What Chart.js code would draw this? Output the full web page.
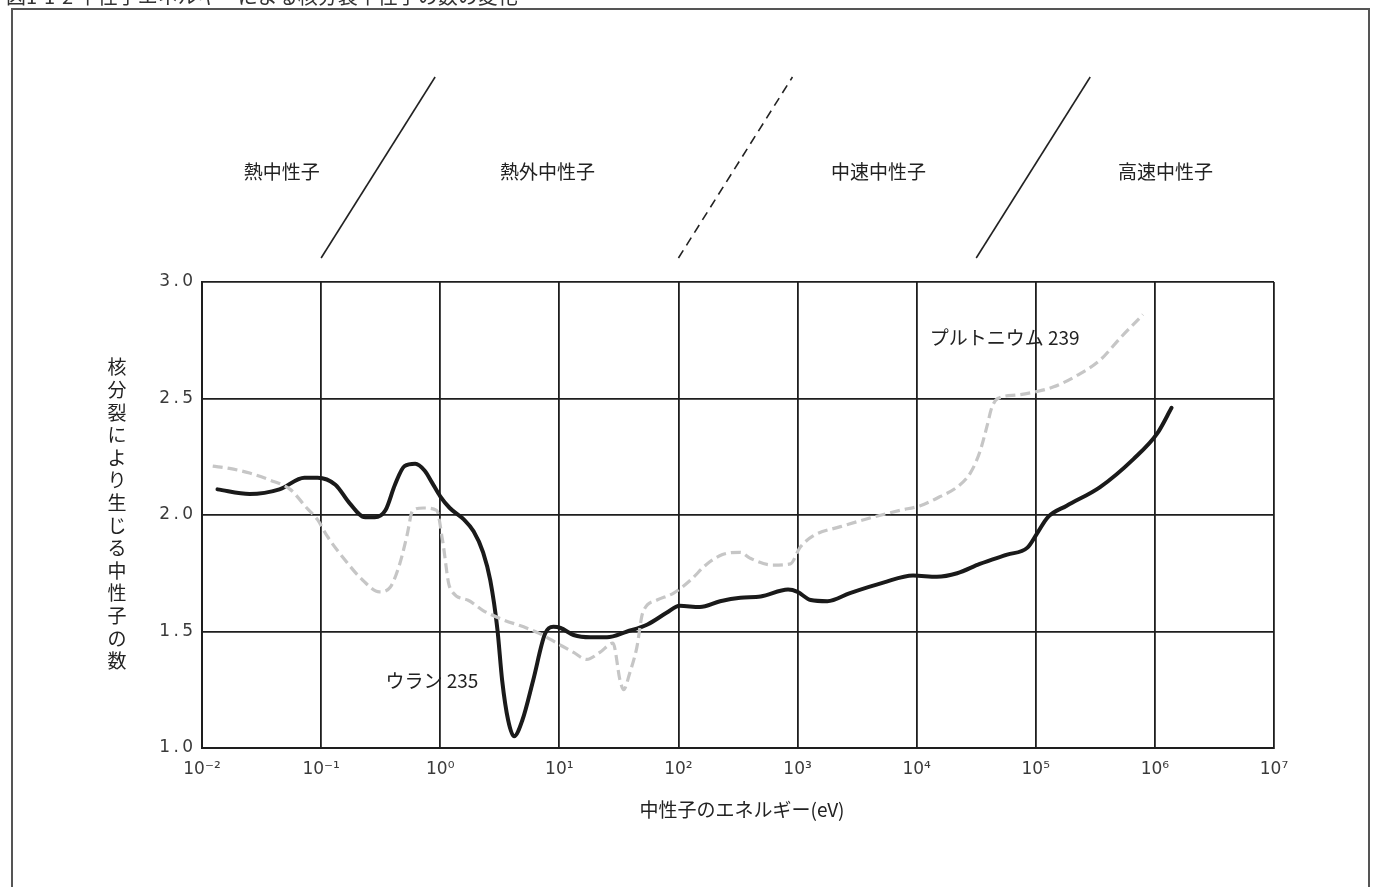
<!DOCTYPE html>
<html lang="ja">
<head>
<meta charset="utf-8">
<title>中性子エネルギーによる核分裂中性子の数の変化</title>
<script src="https://cdn.jsdelivr.net/npm/chart.js@4/dist/chart.umd.min.js"></script>
<style>
  html, body { margin: 0; padding: 0; background: #ffffff; }
  #wrap { width: 1375px; height: 887px; position: relative; }
</style>
</head>
<body>
<div id="wrap"><canvas id="c" width="1375" height="887"></canvas></div>
<script>
// Neutron energy given as log10(E / eV); y = neutrons released per fission.
const uraniumLogE = [-1.87, -1.60, -1.35, -1.14, -1.03, -0.88, -0.76, -0.63, -0.55, -0.46, -0.38, -0.30, -0.21, -0.13, -0.07, 0.00, 0.08, 0.20, 0.28, 0.36, 0.42, 0.48, 0.52, 0.57, 0.62, 0.69, 0.78, 0.88, 0.95, 1.01, 1.12, 1.26, 1.40, 1.57, 1.74, 1.90, 2.01, 2.18, 2.35, 2.52, 2.69, 2.92, 3.00, 3.11, 3.25, 3.44, 3.72, 3.97, 4.17, 4.34, 4.53, 4.76, 4.93, 5.01, 5.10, 5.26, 5.54, 5.82, 6.02, 6.14];
const uraniumNu   = [2.11, 2.09, 2.11, 2.16, 2.16, 2.13, 2.05, 1.99, 1.99, 2.02, 2.13, 2.21, 2.22, 2.19, 2.14, 2.08, 2.03, 1.98, 1.93, 1.84, 1.72, 1.51, 1.29, 1.12, 1.05, 1.12, 1.29, 1.49, 1.52, 1.515, 1.485, 1.475, 1.475, 1.50, 1.53, 1.58, 1.61, 1.605, 1.63, 1.645, 1.65, 1.68, 1.67, 1.635, 1.63, 1.665, 1.71, 1.74, 1.735, 1.75, 1.79, 1.83, 1.86, 1.92, 1.99, 2.04, 2.12, 2.24, 2.35, 2.46];

const plutoniumLogE = [-1.91, -1.77, -1.60, -1.43, -1.26, -1.12, -1.03, -0.95, -0.82, -0.65, -0.51, -0.42, -0.34, -0.28, -0.23, -0.14, -0.03, 0.02, 0.08, 0.23, 0.36, 0.53, 0.70, 0.84, 0.98, 1.12, 1.23, 1.34, 1.45, 1.51, 1.54, 1.59, 1.65, 1.70, 1.82, 1.96, 2.10, 2.24, 2.37, 2.52, 2.60, 2.79, 2.94, 3.02, 3.13, 3.36, 3.63, 3.86, 4.03, 4.20, 4.34, 4.45, 4.53, 4.59, 4.63, 4.68, 4.84, 5.01, 5.15, 5.35, 5.54, 5.71, 5.90];
const plutoniumNu   = [2.21, 2.20, 2.18, 2.15, 2.11, 2.03, 1.98, 1.91, 1.82, 1.72, 1.67, 1.69, 1.79, 1.91, 2.02, 2.03, 2.02, 1.89, 1.69, 1.635, 1.59, 1.55, 1.52, 1.49, 1.45, 1.41, 1.38, 1.41, 1.45, 1.29, 1.25, 1.32, 1.43, 1.58, 1.635, 1.665, 1.72, 1.79, 1.83, 1.84, 1.815, 1.785, 1.79, 1.86, 1.91, 1.95, 1.99, 2.02, 2.04, 2.08, 2.12, 2.18, 2.27, 2.38, 2.46, 2.50, 2.515, 2.53, 2.55, 2.60, 2.665, 2.76, 2.86];

// Axis ticks
const xTickExponents = [-2, -1, 0, 1, 2, 3, 4, 5, 6, 7];
const xTickLabels = ['10⁻²', '10⁻¹', '10⁰', '10¹', '10²', '10³', '10⁴', '10⁵', '10⁶', '10⁷'];
const yTicks = [1.0, 1.5, 2.0, 2.5, 3.0];

// Energy regions along the top, and the boundaries drawn between them
const regionNames = ['熱中性子', '熱外中性子', '中速中性子', '高速中性子'];
const regionCenters = [-1.33, 0.9, 3.68, 6.09];
const boundaryExponents = [-1, 2, 4.5];
const boundaryDashed = [false, true, false];

// Series name labels placed in the plot (log10 E, value)
const seriesLabels = [
  { text: 'ウラン 235', x: -0.46, y: 1.29 },
  { text: 'プルトニウム 239', x: 4.11, y: 2.76 }
];

const figureTitle = '図1-1-2 中性子エネルギーによる核分裂中性子の数の変化';
const yTitle = '核分裂により生じる中性子の数';
const xTitle = '中性子のエネルギー(eV)';

const JP = '"Noto Sans CJK JP", "Noto Sans", sans-serif';

const toPoints = (xs, ys) => xs.map((x, i) => ({ x: x, y: ys[i] }));

const decorations = {
  id: 'decorations',
  beforeDraw(chart) {
    const ctx = chart.ctx;
    ctx.save();
    ctx.fillStyle = '#ffffff';
    ctx.fillRect(0, 0, chart.width, chart.height);
    // page frame
    ctx.strokeStyle = '#555555';
    ctx.lineWidth = 2;
    ctx.strokeRect(12, 9, 1357, 900);
    // figure caption, cut at the top edge of the page
    ctx.fillStyle = '#333333';
    ctx.font = '20px ' + JP;
    ctx.textBaseline = 'alphabetic';
    ctx.textAlign = 'left';
    ctx.fillText(figureTitle, 6, 4);
    ctx.restore();
  },
  beforeDatasetDraw(chart, args) {
    if (args.index === 0) {
      chart.ctx.save();
      chart.ctx.filter = 'blur(0.7px)';
    }
  },
  afterDatasetDraw(chart, args) {
    if (args.index === 0) chart.ctx.restore();
  },
  afterDraw(chart) {
    const ctx = chart.ctx;
    const xs = chart.scales.x, ys = chart.scales.y;
    const area = chart.chartArea;
    ctx.save();
    ctx.fillStyle = '#222222';
    ctx.textBaseline = 'middle';

    // region names
    ctx.font = '19px ' + JP;
    ctx.textAlign = 'center';
    regionNames.forEach((name, i) => {
      ctx.fillText(name, xs.getPixelForValue(regionCenters[i]), 172);
    });

    // boundary strokes
    ctx.strokeStyle = '#222222';
    ctx.lineWidth = 1.6;
    boundaryExponents.forEach((e, i) => {
      const bx = xs.getPixelForValue(e);
      ctx.setLineDash(boundaryDashed[i] ? [9, 6] : []);
      ctx.beginPath();
      ctx.moveTo(bx, area.top - 24);
      ctx.lineTo(bx + 114, area.top - 205);
      ctx.stroke();
    });
    ctx.setLineDash([]);

    // series names
    ctx.font = '19px ' + JP;
    ctx.textAlign = 'left';
    seriesLabels.forEach(l => {
      ctx.fillText(l.text, xs.getPixelForValue(l.x), ys.getPixelForValue(l.y));
    });

    // vertical y-axis title, one character per row
    ctx.font = '19px ' + JP;
    ctx.textAlign = 'center';
    const chars = Array.from(yTitle);
    const step = 22.6;
    const yMid = (area.top + area.bottom) / 2 - 1;
    const y0 = yMid - step * (chars.length - 1) / 2;
    chars.forEach((ch, i) => ctx.fillText(ch, 117, y0 + i * step));

    // x-axis title
    ctx.font = '19px ' + JP;
    ctx.fillText(xTitle, (area.left + area.right) / 2 + 4, area.bottom + 62);
    ctx.restore();
  }
};

new Chart(document.getElementById('c'), {
  type: 'line',
  data: {
    datasets: [
      {
        label: 'プルトニウム 239',
        data: toPoints(plutoniumLogE, plutoniumNu),
        borderColor: '#c6c6c6',
        borderWidth: 3.2,
        borderDash: [10, 5],
        pointRadius: 0,
        cubicInterpolationMode: 'monotone',
        fill: false
      },
      {
        label: 'ウラン 235',
        data: toPoints(uraniumLogE, uraniumNu),
        borderColor: '#1a1a1a',
        borderWidth: 4,
        pointRadius: 0,
        cubicInterpolationMode: 'monotone',
        borderCapStyle: 'round',
        borderJoinStyle: 'round',
        fill: false
      }
    ]
  },
  options: {
    responsive: false,
    animation: false,
    layout: { padding: { left: 0, right: 101, top: 282, bottom: 0 } },
    plugins: {
      legend: { display: false },
      tooltip: { enabled: false },
      title: { display: false }
    },
    scales: {
      x: {
        type: 'linear',
        min: -2,
        max: 7,
        afterFit: s => { s.height = 139; },
        afterBuildTicks: s => { s.ticks = xTickExponents.map(v => ({ value: v })); },
        grid: { color: '#1e1e1e', lineWidth: 1.8, drawTicks: false },
        border: { color: '#1e1e1e', width: 2 },
        ticks: {
          padding: 11,
          color: '#3a3a3a',
          font: { family: '"DejaVu Sans", sans-serif', size: 17 },
          callback: v => xTickLabels[xTickExponents.indexOf(v)] ?? ''
        }
      },
      y: {
        type: 'linear',
        min: 1,
        max: 3,
        afterFit: s => { s.width = 202; },
        afterBuildTicks: s => { s.ticks = yTicks.map(v => ({ value: v })); },
        grid: { color: '#1e1e1e', lineWidth: 1.8, drawTicks: false },
        border: { color: '#1e1e1e', width: 2 },
        ticks: {
          padding: 9,
          color: '#3a3a3a',
          font: { family: '"DejaVu Sans", sans-serif', size: 17 },
          callback: v => v.toFixed(1).split('').join('\u2009')
        }
      }
    }
  },
  plugins: [decorations]
});
</script>
</body>
</html>
